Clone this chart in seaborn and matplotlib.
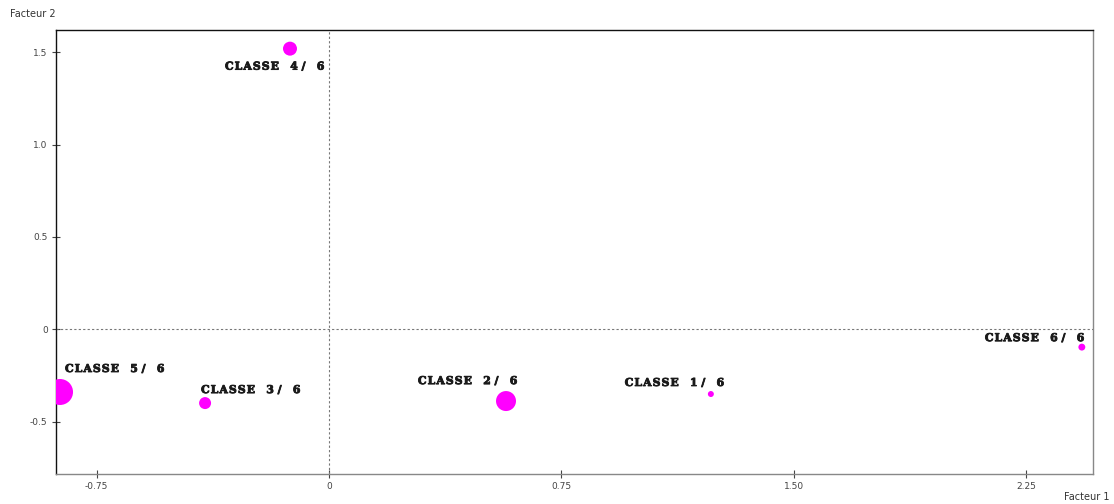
import matplotlib
matplotlib.use("Agg")
import matplotlib.pyplot as plt
import matplotlib.patheffects as pe
import seaborn as sns
import pandas as pd

classes = ["CLASSE 1 / 6", "CLASSE 2 / 6", "CLASSE 3 / 6", "CLASSE 4 / 6", "CLASSE 5 / 6", "CLASSE 6 / 6"]
facteur1 = [1.232, 0.571, -0.400, -0.126, -0.868, 2.429]
facteur2 = [-0.351, -0.389, -0.400, 1.519, -0.340, -0.097]
poids = [9, 100, 36, 49, 169, 12]

xticks = [-0.75, 0, 0.75, 1.50, 2.25]
xticklabels = ["-0.75", "0", "0.75", "1.50", "2.25"]
yticks = [-0.5, 0, 0.5, 1.0, 1.5]
yticklabels = ["-0.5", "0", "0.5", "1.0", "1.5"]

# label offsets in points (dx, dy) from each point to the label's left baseline
label_offsets = {
    "CLASSE 1 / 6": (-62, 5.8),
    "CLASSE 2 / 6": (-63.4, 12.2),
    "CLASSE 3 / 6": (-2.9, 7.2),
    "CLASSE 4 / 6": (-46.8, -15.1),
    "CLASSE 5 / 6": (3.6, 14.4),
    "CLASSE 6 / 6": (-69.8, 4.3),
}


def spaced(label):
    # mimic the wide letter tracking of the original labels
    word, rest = label.split(" ", 1)
    num, den = [s.strip() for s in rest.split("/")]
    return "\u200a".join(word) + "   " + num + " /   " + den


df = pd.DataFrame({"classe": classes, "f1": facteur1, "f2": facteur2, "poids": poids})

sns.set_style("white")
fig = plt.figure(figsize=(11.14, 5.04), dpi=100)
ax = fig.add_axes([56 / 1114, 30 / 504, (1093 - 56) / 1114, (474 - 30) / 504])

sns.scatterplot(data=df, x="f1", y="f2", size="poids", sizes=(18.6, 350),
                color="#ff00ff", edgecolor="none", legend=False, ax=ax, zorder=3)

ax.axhline(0, color="#777777", lw=0.8, ls=(0, (2, 2)), zorder=1)
ax.axvline(0, color="#777777", lw=0.8, ls=(0, (2, 2)), zorder=1)

for c, x, y in zip(classes, facteur1, facteur2):
    dx, dy = label_offsets[c]
    ax.annotate(spaced(c), (x, y), xytext=(dx, dy), textcoords="offset points",
                fontsize=7.8, fontweight="bold", family=["DejaVu Serif", "DejaVu Sans"],
                color="#1a1a1a", ha="left", va="baseline",
                path_effects=[pe.withStroke(linewidth=0.6, foreground="#1a1a1a")])

ax.set_xlim(-0.881, 2.465)
ax.set_ylim(-0.784, 1.62)
ax.set_xticks(xticks)
ax.set_xticklabels(xticklabels)
ax.set_yticks(yticks)
ax.set_yticklabels(yticklabels)
ax.tick_params(direction="inout", length=6, width=0.8, labelsize=6.5,
               labelcolor="#444444", color="#444444", bottom=True, left=True, pad=3)
ax.set_xlabel("")
ax.set_ylabel("")

for side in ["left", "top"]:
    ax.spines[side].set_color("#111111")
    ax.spines[side].set_linewidth(1.0)
for side in ["right", "bottom"]:
    ax.spines[side].set_color("#888888")
    ax.spines[side].set_linewidth(1.0)

fig.text(10 / 1114, 1 - 14 / 504, "Facteur 2", fontsize=7, color="#333333", va="center", ha="left")
fig.text(1110 / 1114, 1 - 497 / 504, "Facteur 1", fontsize=7, color="#333333", va="center", ha="right")

fig.savefig("out.png", dpi=100)
